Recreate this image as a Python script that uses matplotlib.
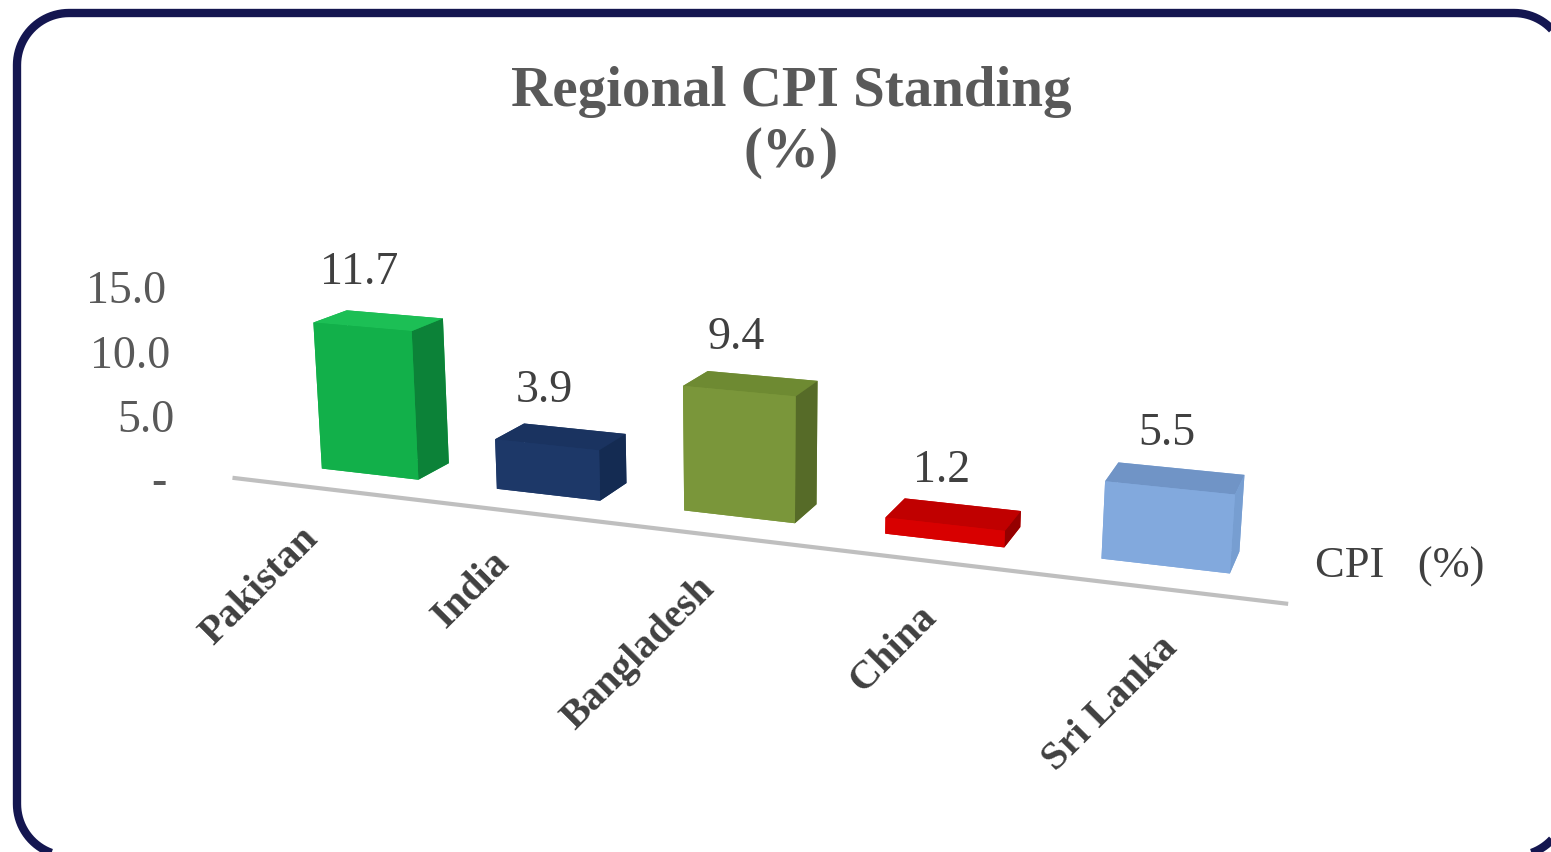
import matplotlib
matplotlib.use('Agg')
import matplotlib.pyplot as plt
import numpy as np
from matplotlib.patches import PathPatch
from matplotlib.path import Path
from matplotlib.transforms import IdentityTransform
from mpl_toolkits.mplot3d import proj3d

categories = ['Pakistan', 'India', 'Bangladesh', 'China', 'Sri Lanka']
cpi_values = [11.7, 3.9, 9.4, 1.2, 5.5]
tick_values = [0, 5, 10, 15]
tick_labels = ['- ', '5.0', '10.0', '15.0']
series_name = 'CPI   (%)'
title_text = 'Regional CPI Standing\n(%)'

front_colors = ['#12b04a', '#1d3868', '#7a963a', '#d80000', '#82a9dd']
top_colors = ['#1cbf55', '#1a3360', '#6e8a32', '#c00000', '#7094c6']
side_colors = ['#0c8238', '#142b52', '#566b28', '#950000', '#779ed1']

SERIF = ['Liberation Serif', 'DejaVu Serif']
W, H = 1551, 853
fig = plt.figure(figsize=(W / 100, H / 100), dpi=100)


def rounded_rect(x0, y0, x1, y1, r, n=24):
    verts = []
    corners = [(x1 - r, y1 - r, 0), (x0 + r, y1 - r, 90),
               (x0 + r, y0 + r, 180), (x1 - r, y0 + r, 270)]
    for cx, cy, a0 in corners:
        for t in np.linspace(np.radians(a0), np.radians(a0 + 90), n):
            verts.append((cx + r * np.cos(t), cy + r * np.sin(t)))
    verts.append(verts[0])
    return Path(verts)


# rounded frame in pixel coordinates (y up)
frame = PathPatch(rounded_rect(17, H - 857, 1566, H - 14, 52),
                  transform=IdentityTransform(), fill=False,
                  ec='#141650', lw=6, zorder=0)
fig.patches.append(frame)

side = W / H
ax = fig.add_axes([-42 / W, (1 - side) / 2 - 0.011, 1.0, side],
                  projection='3d')
ax.set_facecolor('none')
ax.set_proj_type('persp', focal_length=0.24)
ax.view_init(elev=15, azim=-69.5)
ax.set_axis_off()

n = len(categories)
idx = np.arange(n)
bw, bd, y0 = 0.56, 0.42, 0.4
facecols = []
for i in range(n):
    # face order: -z, +z, -y (front), +y, -x, +x (right side)
    facecols += [front_colors[i], top_colors[i], front_colors[i],
                 front_colors[i], front_colors[i], side_colors[i]]
ax.bar3d(idx - bw / 2, np.full(n, y0), np.zeros(n), bw, bd,
         cpi_values, color=facecols, shade=False, edgecolor='none')

floor_lo, floor_hi = -0.6, 4.55
ax.plot([floor_lo, floor_hi], [0, 0], [0, 0], color='#bfbfbf', lw=3)

ax.set_xlim(-0.65, 4.75)
ax.set_ylim(0, 1)
ax.set_zlim(0, 15)
ax.set_box_aspect((1160, 160, 210), zoom=0.74)

M = ax.get_proj()


def p2d(x, y, z):
    px, py, _ = proj3d.proj_transform(np.array([x]), np.array([y]),
                                      np.array([z]), M)
    return float(px[0]), float(py[0])


for t, lbl in zip(tick_values, tick_labels):
    ax.annotate(lbl, xy=p2d(floor_lo, 0, t), xycoords='data',
                xytext=(-40, -3), textcoords='offset points',
                ha='right', va='center', fontsize=33, family=SERIF,
                color='#595959', annotation_clip=False)

for i, v in enumerate(cpi_values):
    ax.annotate(f'{v:.1f}', xy=p2d(i, y0, v), xycoords='data',
                xytext=(-2, 24), textcoords='offset points',
                ha='center', va='bottom', fontsize=33, family=SERIF,
                color='#404040', annotation_clip=False)
    ax.annotate(categories[i], xy=p2d(i, -0.8, 0), xycoords='data',
                xytext=(22, 5), textcoords='offset points',
                ha='right', va='top', rotation=45, rotation_mode='anchor',
                fontsize=29, fontweight='bold', family=SERIF,
                color='#404040', annotation_clip=False)

fig.text(1315 / W, 1 - 567 / H, series_name, ha='left', va='center',
         fontsize=32, family=SERIF, color='#404040')

fig.text(791 / W, 1 - 66 / H, title_text, ha='center', va='top',
         fontsize=41, fontweight='bold', family=SERIF, color='#595959',
         linespacing=1.22)

fig.savefig('out.png', dpi=100)
